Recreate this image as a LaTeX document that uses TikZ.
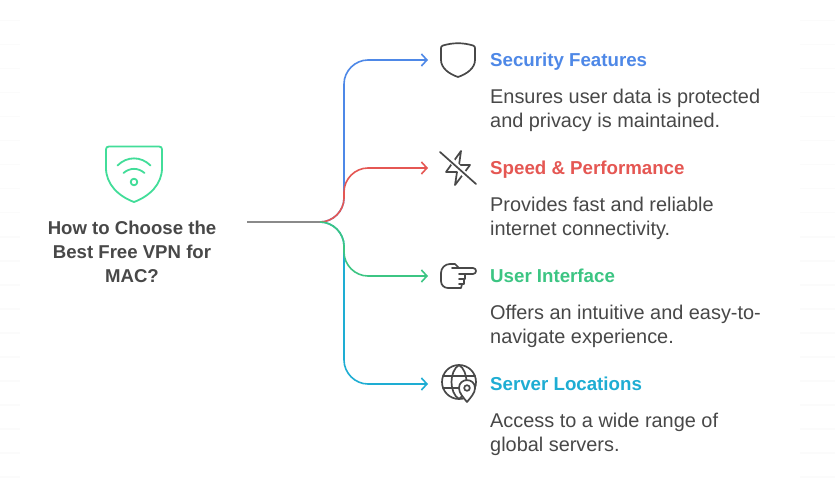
\documentclass[tikz,border=0pt]{standalone}
\usepackage{fontspec}
\setmainfont{Liberation Sans}
\usetikzlibrary{arrows.meta}
\definecolor{cblue}{HTML}{4E88E7}
\definecolor{cred}{HTML}{E55753}
\definecolor{cgreen}{HTML}{3CC583}
\definecolor{cmint}{HTML}{42DD99}
\definecolor{cteal}{HTML}{1EADD3}
\definecolor{ctxt}{HTML}{484848}
\definecolor{cgray}{HTML}{8A8A8A}
\definecolor{cfaint}{HTML}{FBFBFB}
\tikzset{
 conn/.style={line width=1.6pt,-{Straight Barb[length=5.5pt,width=12pt,line width=1.6pt]}},
 icon/.style={draw=ctxt,line width=1.7pt,line join=round,line cap=round},
 mint/.style={cmint,line width=1.8pt,line join=round,line cap=round},
 ttl/.style={anchor=base west,inner sep=0pt,font=\fontsize{18.7}{24}\selectfont\bfseries},
 body/.style={anchor=base west,inner sep=0pt,text=ctxt,font=\fontsize{19.9}{24}\selectfont},
 main/.style={anchor=base,inner sep=0pt,text=ctxt,font=\fontsize{18.6}{24}\selectfont\bfseries}
}
\begin{document}
\begin{tikzpicture}[x=1pt,y=-1pt]
\useasboundingbox (0,0) rectangle (835,489);
\fill[white] (0,0) rectangle (835,489);
\foreach \yy in {20,44,...,476}{
 \fill[cfaint] (0,\yy) rectangle (20,\yy+1.5);
 \fill[cfaint] (800,\yy) rectangle (835,\yy+1.5);
}
% coordinates
\coordinate (root) at (247,222);
\coordinate (hub) at (320,222);
\coordinate (e1) at (428,60);
\coordinate (e2) at (428,168);
\coordinate (e3) at (428,276);
\coordinate (e4) at (428,384);
% connectors
\draw[conn,cblue] (hub) .. controls (333,222) and (344,211) .. (344,198) -- (344,84) .. controls (344,71) and (355,60) .. (368,60) -- (e1);
\draw[conn,cteal] (hub) .. controls (333,222) and (344,233) .. (344,246) -- (344,360) .. controls (344,373) and (355,384) .. (368,384) -- (e4);
\draw[conn,cred] (hub) .. controls (333,222) and (344,211) .. (344,198) -- (344,192) .. controls (344,179) and (355,168) .. (368,168) -- (e2);
\draw[conn,cgreen] (hub) .. controls (333,222) and (344,233) .. (344,246) -- (344,252) .. controls (344,265) and (355,276) .. (368,276) -- (e3);
\draw[line width=1.6pt,cgray] (root) -- (hub);
% main shield icon
\draw[mint]
 (109,146.5) .. controls (107,146.5) and (106,147.5) .. (106,149.5) -- (106,168)
 .. controls (106,184) and (118,196) .. (134,202)
 .. controls (150,196) and (162,184) .. (162,168) -- (162,149.5)
 .. controls (162,147.5) and (161,146.5) .. (159,146.5) -- cycle;
\draw[mint] (117.5,165.5) .. controls (127,156) and (141,156) .. (150.5,165.5);
\draw[mint] (123.5,173) .. controls (130,167.5) and (138,167.5) .. (144.5,173);
\draw[mint] (134,182) circle (3.3);
% shield
\draw[icon] (443,45.5) .. controls (453,42.5) and (463,42.5) .. (473,45.5) .. controls (474.5,46) and (475,47) .. (475,48) -- (475,60)
 .. controls (475,68) and (467,74) .. (458,77) .. controls (449,74) and (441,68) .. (441,60) -- (441,48) .. controls (441,47) and (441.5,46) .. (443,45.5) -- cycle;
% bolt
\draw[icon] (461,151) -- (446,172) -- (457,172) -- (455,185) -- (470,165) -- (459,165) -- cycle;
\draw[fill=white,draw=none] (445,158) -- (449,154) -- (474,180) -- (470,184) -- cycle;
\draw[icon] (440,152) -- (476,184);
% hand
\draw[icon] (459,268) -- (473,268) .. controls (477,268) and (477,274) .. (473,274) -- (459,274);
\draw[icon] (465,274) -- (465,279) -- (459,279);
\draw[icon] (464,279) -- (464,284) -- (459,284);
\draw[icon] (462,284) -- (461,288) -- (448,288) .. controls (444,288) and (441,285) .. (441,281) -- (441,273)
 .. controls (441,268) and (445,264) .. (450,264) -- (455,264) -- (459,268) -- (452,268);
% globe
\draw[icon] (459,382) circle (17);
\draw[icon] (459,365) .. controls (449,371) and (449,393) .. (459,399);
\draw[icon] (459,365) .. controls (469,371) and (469,393) .. (459,399);
\draw[icon] (443,376) -- (475,376);
\draw[icon] (443,388) -- (475,388);
\draw[icon,fill=white] (467,402) .. controls (463,397) and (459,393) .. (459,388) .. controls (459,377.5) and (475,377.5) .. (475,388) .. controls (475,393) and (471,397) .. (467,402) -- cycle;
\draw[icon] (467,388) circle (2.8);
% text
\node[main] (m1) at (132,234) {How to Choose the};
\node[main] (m2) at (132,258) {Best Free VPN for};
\node[main] (m3) at (132,282) {MAC?};
\node[ttl,text=cblue] (t1) at (490,66.5) {Security Features};
\node[body] (b1a) at (490,103.5) {Ensures user data is protected};
\node[body] (b1b) at (490,127.5) {and privacy is maintained.};
\node[ttl,text=cred] (t2) at (490,174.5) {Speed \& Performance};
\node[body] (b2a) at (490,211.5) {Provides fast and reliable};
\node[body] (b2b) at (490,235.5) {internet connectivity.};
\node[ttl,text=cgreen] (t3) at (490,282.5) {User Interface};
\node[body] (b3a) at (490,319.5) {Offers an intuitive and easy-to-};
\node[body] (b3b) at (490,343.5) {navigate experience.};
\node[ttl,text=cteal] (t4) at (490,390.5) {Server Locations};
\node[body] (b4a) at (490,427.5) {Access to a wide range of};
\node[body] (b4b) at (490,451.5) {global servers.};
\end{tikzpicture}
\end{document}
